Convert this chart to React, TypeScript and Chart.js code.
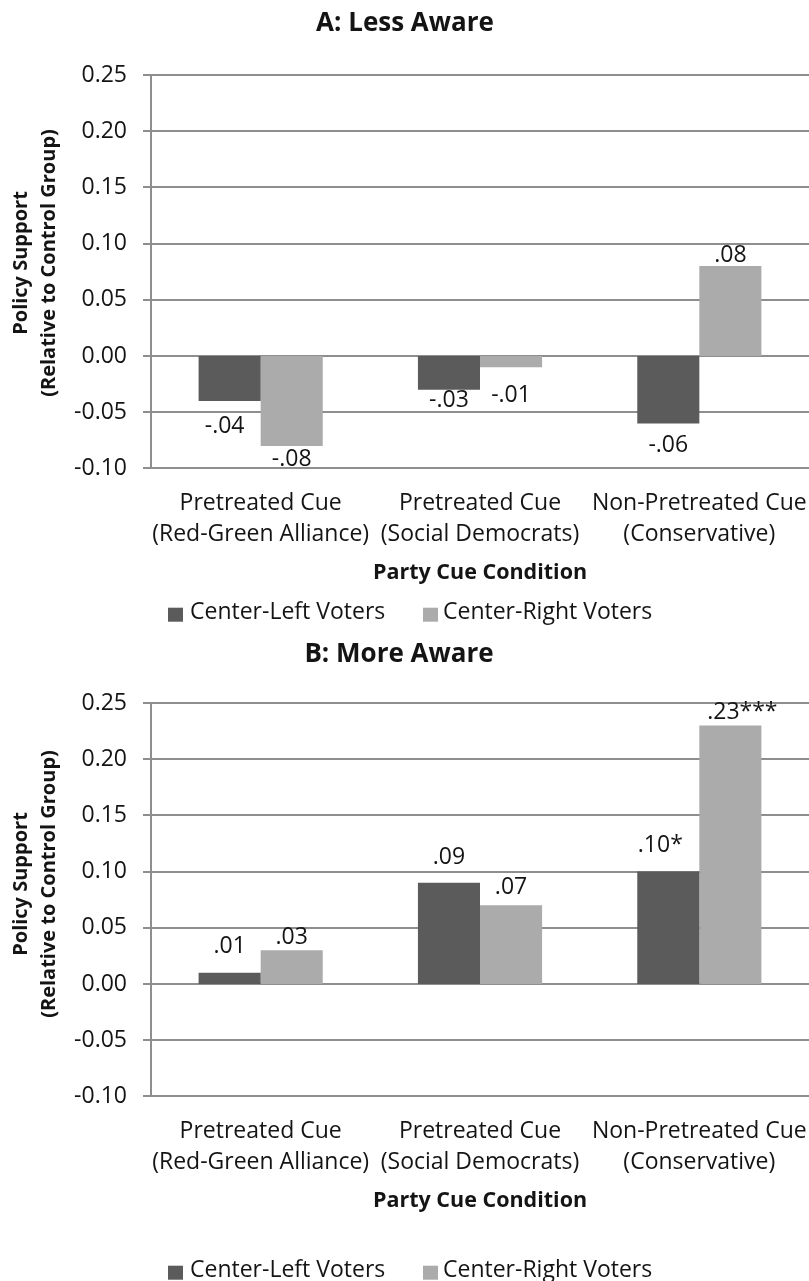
import React, { useEffect, useRef } from "react";
import { Chart, registerables } from "chart.js";

Chart.register(...registerables);

const FONT = "'Open Sans', 'DejaVu Sans', sans-serif";
const TEXT_COLOR = "#141414";
const GRID_COLOR = "#8e8e8e";

// Party cue conditions (two-line category labels)
const categories: string[][] = [
  ["Pretreated Cue", "(Red-Green Alliance)"],
  ["Pretreated Cue", "(Social Democrats)"],
  ["Non-Pretreated Cue", "(Conservative)"],
];

const seriesNames = ["Center-Left Voters", "Center-Right Voters"];
const seriesColors = ["#5b5b5b", "#ababab"];

// Panel A: less aware respondents
const lessAwareLeft = [-0.04, -0.03, -0.06];
const lessAwareRight = [-0.08, -0.01, 0.08];
const lessAwareLeftStars = ["", "", ""];
const lessAwareRightStars = ["", "", ""];

// Panel B: more aware respondents
const moreAwareLeft = [0.01, 0.09, 0.1];
const moreAwareRight = [0.03, 0.07, 0.23];
const moreAwareLeftStars = ["", "", "*"];
const moreAwareRightStars = ["", "", "***"];

// Value axis
const yMin = -0.1;
const yMax = 0.25;
const yStep = 0.05;

const yTitleLines = ["Policy Support", "(Relative to Control Group)"];
const xTitle = "Party Cue Condition";

// ".08", "-.04", ".23***"
function valueLabel(v: number, stars: string): string {
  const body = Math.abs(v).toFixed(2).replace(/^0/, "");
  return (v < 0 ? "-" : "") + body + stars;
}

function tickLabel(v: number): string {
  const n = Math.abs(v) < 1e-9 ? 0 : v;
  return n.toFixed(2);
}

type PanelSpec = {
  title: string;
  titleX: number;
  titleY: number;
  top: number;
  height: number;
  left: number[];
  right: number[];
  leftStars: string[];
  rightStars: string[];
  labelDx: number[][];
  labelDy: number[][];
  yTitleY: number;
  legendY: number;
};

const PLOT_LEFT = 151;
const PLOT_TOP = 75;
const PLOT_BOTTOM = 468.4;
const BODY_SIZE = 23;

const panels: PanelSpec[] = [
  {
    title: "A: Less Aware",
    titleX: 405,
    titleY: 24,
    top: 0,
    height: 628,
    left: lessAwareLeft,
    right: lessAwareRight,
    leftStars: lessAwareLeftStars,
    rightStars: lessAwareRightStars,
    labelDx: [
      [-5, 0, 0],
      [0, 0, 0],
    ],
    labelDy: [
      [25, 11, 22],
      [14, 28.5, -11],
    ],
    yTitleY: 263,
    legendY: 612.7,
  },
  {
    title: "B: More Aware",
    titleX: 399,
    titleY: 27,
    top: 628,
    height: 653,
    left: moreAwareLeft,
    right: moreAwareRight,
    leftStars: moreAwareLeftStars,
    rightStars: moreAwareRightStars,
    labelDx: [
      [0, 0, -8],
      [0, 0, 12],
    ],
    labelDy: [
      [-26, -25.5, -26],
      [-13, -18, -13],
    ],
    yTitleY: 256,
    legendY: 642.7,
  },
];

function Panel({ spec }: { spec: PanelSpec }) {
  const ref = useRef<HTMLCanvasElement>(null);

  useEffect(() => {
    const canvas = ref.current;
    if (!canvas) return;

    const stars = [spec.leftStars, spec.rightStars];
    const values = [spec.left, spec.right];

    const overlay = {
      id: "panelText",
      afterDatasetsDraw(chart: any) {
        const ctx = chart.ctx as CanvasRenderingContext2D;
        ctx.save();
        ctx.font = `${BODY_SIZE}px ${FONT}`;
        ctx.fillStyle = TEXT_COLOR;
        ctx.textAlign = "center";
        ctx.textBaseline = "middle";
        for (let d = 0; d < 2; d++) {
          const meta = chart.getDatasetMeta(d);
          meta.data.forEach((el: any, i: number) => {
            const txt = valueLabel(values[d][i], stars[d][i]);
            ctx.fillText(txt, el.x + spec.labelDx[d][i], el.y + spec.labelDy[d][i]);
          });
        }
        ctx.restore();
      },
      afterDraw(chart: any) {
        const ctx = chart.ctx as CanvasRenderingContext2D;
        const area = chart.chartArea;
        ctx.save();
        ctx.fillStyle = TEXT_COLOR;
        ctx.textBaseline = "middle";

        // panel title
        ctx.textAlign = "center";
        ctx.font = `bold 26px ${FONT}`;
        ctx.fillText(spec.title, spec.titleX, spec.titleY);

        // horizontal axis title
        ctx.font = `bold 21.5px ${FONT}`;
        ctx.fillText(xTitle, (area.left + area.right) / 2, 573);

        // vertical axis title, two rotated lines
        ctx.font = `bold 20px ${FONT}`;
        const lineX = [21, 49];
        yTitleLines.forEach((line, k) => {
          ctx.save();
          ctx.translate(lineX[k], spec.yTitleY);
          ctx.rotate(-Math.PI / 2);
          ctx.fillText(line, 0, 0);
          ctx.restore();
        });

        // legend
        const boxX = [168, 423];
        const textX = [190, 443];
        ctx.font = `${BODY_SIZE}px ${FONT}`;
        ctx.textAlign = "left";
        for (let d = 0; d < 2; d++) {
          ctx.fillStyle = seriesColors[d];
          ctx.fillRect(boxX[d], spec.legendY - 5, 15, 14);
          ctx.fillStyle = TEXT_COLOR;
          ctx.fillText(seriesNames[d], textX[d], spec.legendY);
        }
        ctx.restore();
      },
    };

    const chart = new Chart(canvas, {
      type: "bar",
      data: {
        labels: categories,
        datasets: [
          {
            label: seriesNames[0],
            data: spec.left,
            backgroundColor: seriesColors[0],
            borderWidth: 0,
            categoryPercentage: 0.566,
            barPercentage: 1,
          },
          {
            label: seriesNames[1],
            data: spec.right,
            backgroundColor: seriesColors[1],
            borderWidth: 0,
            categoryPercentage: 0.566,
            barPercentage: 1,
          },
        ],
      },
      options: {
        responsive: false,
        animation: false,
        devicePixelRatio: 1,
        layout: { padding: { top: PLOT_TOP, left: 0, right: 0, bottom: 0 } },
        plugins: {
          legend: { display: false },
          title: { display: false },
          tooltip: { enabled: false },
        },
        scales: {
          x: {
            grid: { display: false, drawTicks: false, tickLength: 0 },
            border: { display: false },
            ticks: {
              font: { family: FONT, size: BODY_SIZE, lineHeight: 1.33 },
              color: TEXT_COLOR,
              padding: 20,
              maxRotation: 0,
              minRotation: 0,
              autoSkip: false,
            },
            afterFit(scale: any) {
              scale.height = spec.height - PLOT_BOTTOM;
              scale.paddingLeft = 0;
              scale.paddingRight = 0;
            },
          },
          y: {
            min: yMin,
            max: yMax,
            ticks: {
              stepSize: yStep,
              callback: (v: any) => tickLabel(Number(v)),
              font: { family: FONT, size: BODY_SIZE },
              color: TEXT_COLOR,
              padding: 16,
            },
            grid: {
              color: GRID_COLOR,
              lineWidth: 2,
              drawTicks: true,
              tickLength: 8,
            },
            border: { display: true, color: GRID_COLOR, width: 2 },
            afterFit(scale: any) {
              scale.width = PLOT_LEFT;
              scale.paddingTop = 0;
              scale.paddingBottom = 0;
            },
          },
        },
      },
      plugins: [overlay],
    } as any);

    return () => chart.destroy();
  }, [spec]);

  return (
    <canvas
      ref={ref}
      width={809}
      height={spec.height}
      style={{
        position: "absolute",
        left: 0,
        top: spec.top,
        width: 809,
        height: spec.height,
      }}
    />
  );
}

export default function App() {
  return (
    <div
      style={{
        position: "absolute",
        left: 0,
        top: 0,
        width: 809,
        height: 1281,
        background: "#ffffff",
        overflow: "hidden",
      }}
    >
      {panels.map((p) => (
        <Panel key={p.title} spec={p} />
      ))}
    </div>
  );
}
